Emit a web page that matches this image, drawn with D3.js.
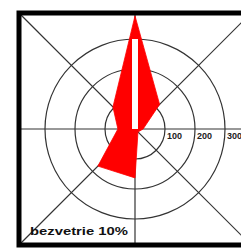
<!DOCTYPE html>
<html>
<head>
<meta charset="utf-8">
<script src="https://cdn.jsdelivr.net/npm/d3@7"></script>
<style>
  body { margin: 0; background: #fff; }
  svg { display: block; }
</style>
</head>
<body>
<div id="chart"></div>
<script>
// wind directions, clockwise from north
const directions = ["S", "SV", "V", "JV", "J", "JZ", "Z", "SZ"];
const counts = [377, 116, 27, 14, 163, 175, 57, 104];
const ringValues = [100, 200, 300];
const whiteBar = 300; // white strip up the north axis
const calmLabel = "bezvetrie 10%";

const width = 241, height = 248;
const cx = 135, cy = 129, half = 116; // centre and half size of the frame

let svg = d3.select("#chart")
    .append("svg")
    .attr("width", width)
    .attr("height", height);

let r = d3.scaleLinear() // value -> radius
    .domain([0, 300])
    .range([0, 90]);

let g = svg.append("g")
    .attr("transform", `translate(${cx},${cy})`);

// rings
g.selectAll(".ring")
    .data(ringValues)
    .join("circle")
    .attr("class", "ring")
    .attr("r", d => r(d))
    .attr("fill", "none")
    .attr("stroke", "#333")
    .attr("stroke-width", 1.2);

// axes through centre
const spokes = [[-half, 0, half, 0], [0, -half, 0, half], [-half, -half, half, half], [-half, half, half, -half]];
g.selectAll(".spoke")
    .data(spokes)
    .join("line")
    .attr("class", "spoke")
    .attr("x1", d => d[0]).attr("y1", d => d[1])
    .attr("x2", d => d[2]).attr("y2", d => d[3])
    .attr("stroke", "#333")
    .attr("stroke-width", 1.2);

// red rose polygon, drawn over the grid
let line = d3.lineRadial()
    .angle((d, i) => i * Math.PI / 4)
    .radius(d => r(d))
    .curve(d3.curveLinearClosed);

g.append("path")
    .attr("d", line(counts))
    .attr("fill", "#f00")
    .attr("stroke", "#f00")
    .attr("stroke-width", 0.8);

g.append("rect") // white strip to the north
    .attr("x", -3)
    .attr("y", -r(whiteBar))
    .attr("width", 6)
    .attr("height", r(whiteBar))
    .attr("fill", "#fff");

// ring labels
g.selectAll(".rlabel")
    .data(ringValues)
    .join("text")
    .attr("class", "rlabel")
    .attr("x", d => r(d) + 2)
    .attr("y", 9.5)
    .attr("font-family", "Liberation Sans, Arial, sans-serif")
    .attr("font-weight", "bold")
    .attr("font-size", 9)
    .attr("textLength", 15)
    .attr("lengthAdjust", "spacingAndGlyphs")
    .attr("fill", "#222")
    .text(d => d);

// frame
svg.append("rect")
    .attr("x", cx - half)
    .attr("y", cy - half)
    .attr("width", half * 2)
    .attr("height", half * 2)
    .attr("fill", "none")
    .attr("stroke", "#000")
    .attr("stroke-width", 5);

svg.append("text")
    .attr("x", 30)
    .attr("y", 235)
    .attr("font-family", "Liberation Sans, Arial, sans-serif")
    .attr("font-weight", "bold")
    .attr("font-size", 11.5)
    .attr("textLength", 98)
    .attr("lengthAdjust", "spacingAndGlyphs")
    .attr("fill", "#111")
    .text(calmLabel);
</script>
</body>
</html>
